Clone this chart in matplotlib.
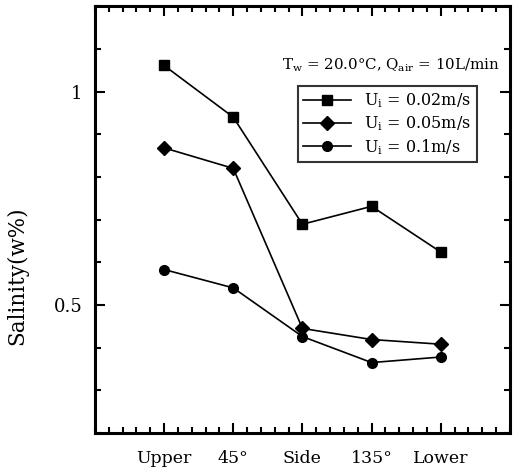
import matplotlib
matplotlib.use("Agg")
import matplotlib.pyplot as plt
from matplotlib.ticker import MultipleLocator, FuncFormatter

categories = ["Upper", "45°", "Side", "135°", "Lower"]
u002 = [1.061, 0.940, 0.689, 0.731, 0.624]
u005 = [0.868, 0.820, 0.445, 0.419, 0.408]
u01 = [0.583, 0.540, 0.426, 0.365, 0.378]
labels = ["U$_\\mathregular{i}$ = 0.02m/s", "U$_\\mathregular{i}$ = 0.05m/s", "U$_\\mathregular{i}$ = 0.1m/s"]

plt.rcParams['font.family'] = ['DejaVu Serif']
plt.rcParams['mathtext.fontset'] = 'dejavuserif'

fig = plt.figure(figsize=(5.13, 4.74), dpi=100)
ax = fig.add_axes([0.185, 0.0865, 0.809, 0.9005])

x = list(range(1, len(categories) + 1))
ax.plot(x, u002, '-s', color='black', lw=1.2, ms=7, label=labels[0])
ax.plot(x, u005, '-D', color='black', lw=1.2, ms=7, label=labels[1])
ax.plot(x, u01, '-o', color='black', lw=1.2, ms=7, label=labels[2])

ax.set_xlim(0, 6)
ax.set_ylim(0.2, 1.2)
ax.set_xticks(x)
ax.set_xticklabels(categories, fontsize=12.5)
ax.xaxis.set_minor_locator(MultipleLocator(0.2))
ax.yaxis.set_major_locator(MultipleLocator(0.5))
ax.yaxis.set_minor_locator(MultipleLocator(0.1))
ax.yaxis.set_major_formatter(FuncFormatter(lambda v, p: f"{v:g}"))
ax.tick_params(axis='y', labelsize=13, pad=9)
ax.tick_params(which='both', direction='in', top=True, right=True, width=1.5)
ax.tick_params(which='major', length=7)
ax.tick_params(which='minor', length=4)
ax.tick_params(axis='x', pad=12)
for s in ax.spines.values():
    s.set_linewidth(2.2)

ax.set_ylabel("Salinity(w%)", fontsize=15.5)
ax.yaxis.set_label_coords(-0.16, 0.368)

ax.text(0.451, 0.862, "T$_\\mathregular{w}$ = 20.0°C, Q$_\\mathregular{air}$ = 10L/min",
        transform=ax.transAxes, fontsize=10.8, va='center', ha='left')

leg = ax.legend(loc='upper left', bbox_to_anchor=(0.489, 0.813), borderaxespad=0,
                fontsize=11.5, frameon=True, fancybox=False, edgecolor='black',
                handlelength=3.0, labelspacing=0.25, borderpad=0.35)
leg.get_frame().set_linewidth(1.5)

fig.savefig("out.png", dpi=100)
